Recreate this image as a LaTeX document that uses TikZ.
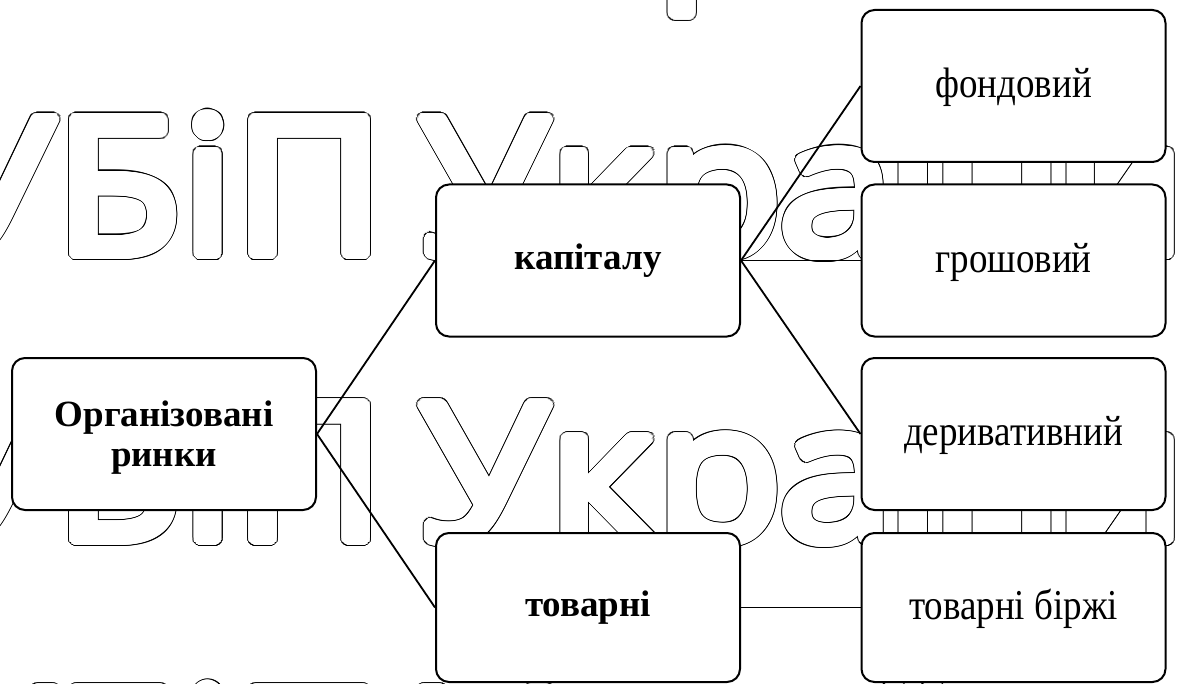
\documentclass[tikz,border=0pt]{standalone}
\usepackage{graphicx}
\usepackage{fontspec}
\setmainfont{Liberation Serif}
\newfontfamily\wmfont[FakeStretch=1.09]{Open Sans}
\usepackage[copies]{contour}
\contournumber{32}

% hollow watermark lettering: a dark halo under a slightly smaller white halo
\newcommand{\wmtext}{НУБіП\ \kern-19pt Укр\kern-4pt а\kern-7pt ї\kern-8pt н\kern-8pt и}
\newcommand{\wmrow}[1]{%
  \node[anchor=base west, inner sep=0pt, text=black] at (#1) {\wmfont\fontsize{190}{190}\selectfont\contourlength{6.4pt}\contour{black}{\wmtext}};
  \node[anchor=base west, inner sep=0pt, text=white] at (#1) {\wmfont\fontsize{190}{190}\selectfont\contourlength{5.3pt}\contour{white}{\wmtext}};
}
% plain box labels are set a little taller than wide
\newcommand{\tall}[1]{\scalebox{1}[1.15]{#1}}

\tikzset{
  box/.style={draw=black, line width=2pt, rounded corners=13pt, fill=white,
    minimum width=304pt, minimum height=152pt, inner sep=0pt, align=center,
    font=\fontsize{37}{40}\selectfont, text height=31.5pt, text depth=8pt},
  lowbox/.style={box, minimum height=149pt},
  bold/.style={font=\fontsize{37}{40}\selectfont\bfseries, text height=, text depth=},
  link/.style={draw=black, line width=1.8pt},
}

\begin{document}
\begin{tikzpicture}[x=1pt, y=-1pt]
\useasboundingbox (0,0) rectangle (1182,684);

% watermark rows
\wmrow{-226.8,-31}
\wmrow{-226.8,254.4}
\wmrow{-226.8,540}
\wmrow{-226.8,825}

% boxes
\node[box, bold] (org) at (164,434) {\rule{0pt}{33.5pt}Організовані\\ринки};
\node[box, bold] (kap) at (588,260.5) {капіталу};
\node[lowbox, bold] (tov) at (588,607.5) {товарні};
\node[box] (fond) at (1013.5,86) {\tall{фондовий}};
\node[box] (grosh) at (1013.5,260.5) {\tall{грошовий}};
\node[box] (deriv) at (1013.5,434) {\tall{деривативний}};
\node[lowbox] (birzh) at (1013.5,607.5) {\tall{товарні біржі}};

% connectors
\draw[link] (org.east) -- (kap.west);
\draw[link] (org.east) -- (tov.west);
\draw[link] (kap.east) -- (fond.west);
\draw[link] (kap.east) -- (grosh.west);
\draw[link] (kap.east) -- (deriv.west);
\draw[link] (tov.east) -- (birzh.west);
\end{tikzpicture}
\end{document}
